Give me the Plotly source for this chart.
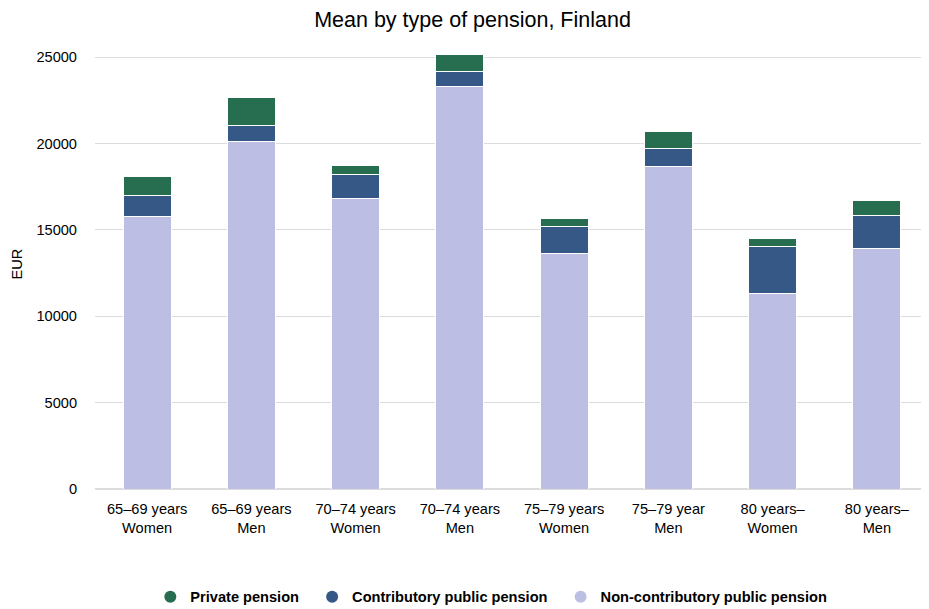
import plotly.graph_objects as go

# -----------------------------------
# Data
# -----------------------------------
categories = [
    "65–69 years<br>Women", "65–69 years<br>Men",
    "70–74 years<br>Women", "70–74 years<br>Men",
    "75–79 years<br>Women", "75–79 year<br>Men",
    "80 years–<br>Women", "80 years–<br>Men",
]
non_contributory = [15800, 20140, 16840, 23320, 13660, 18690, 11340, 13950]
contributory = [1200, 920, 1390, 870, 1560, 1040, 2720, 1910]
private = [1100, 1630, 520, 980, 460, 990, 470, 860]

series = [
    ("Non-contributory public pension", non_contributory, "#bcbee3"),
    ("Contributory public pension", contributory, "#365886"),
    ("Private pension", private, "#276e50"),
]

FONT = "Liberation Sans, Arial, sans-serif"

fig = go.Figure()

for name, values, color in series:
    fig.add_trace(go.Bar(
        x=categories, y=values, name=name,
        marker=dict(color=color, line=dict(color="white", width=1)),
        showlegend=False,
    ))

# legend entries with round markers
for name, values, color in reversed(series):
    fig.add_trace(go.Scatter(
        x=[None], y=[None], mode="markers", name=f"<b>{name}</b>  ",
        marker=dict(color=color, size=14, symbol="circle"),
    ))

# page body has an 8px margin, so the figure sits 8px right/down
fig.update_layout(
    barmode="stack",
    bargap=0.54,
    width=929, height=609,
    template="plotly_white",
    font=dict(family=FONT, size=14.6, color="#000"),
    title=dict(text="Mean by type of pension, Finland", x=0.5, y=1 - 4 / 609,
               xanchor="center", yanchor="top", font=dict(size=21.5)),
    margin=dict(l=87, r=8, t=32, b=128, autoexpand=False),
    plot_bgcolor="white",
    legend=dict(orientation="h", x=0.48, xanchor="center", y=-0.24, yanchor="middle",
                font=dict(size=14.6, family=FONT),
                itemsizing="constant", traceorder="normal"),
    xaxis=dict(showgrid=False, tickfont=dict(size=14.6), showline=False, ticks="",
               ticklabelstandoff=9, automargin=False),
    yaxis=dict(range=[0, 26000], tickvals=[0, 5000, 10000, 15000, 20000, 25000],
               tickformat="d", gridcolor="#dcdcdc", zeroline=True, zerolinecolor="#dcdcdc",
               tickfont=dict(size=14.6), ticks="", showline=False,
               ticklabelstandoff=17, automargin=False),
)

fig.add_annotation(text="EUR", x=-(87 - 8) / 834, xref="paper", y=0.5, yref="paper",
                   xanchor="center", textangle=-90, showarrow=False, font=dict(size=14.6))

fig.write_html("out.html")
